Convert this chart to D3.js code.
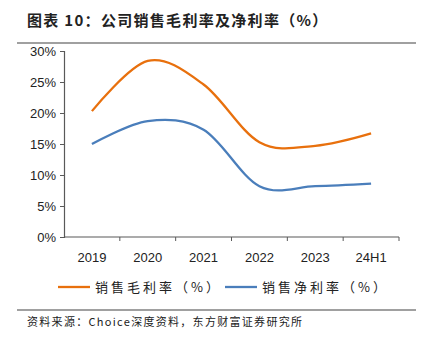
<!DOCTYPE html>
<html>
<head>
<meta charset="utf-8">
<script src="https://cdn.jsdelivr.net/npm/d3@7"></script>
<style>
  body { margin: 0; background: #fff; }
  svg { display: block; }
</style>
</head>
<body>
<div id="chart"></div>
<script>
// periods and margin series (%)
const years = ["2019", "2020", "2021", "2022", "2023", "24H1"];
const grossMargin = [20.3, 28.4, 24.6, 15.3, 14.7, 16.7];
const netMargin = [15.0, 18.7, 17.3, 8.2, 8.2, 8.6];
const yTicks = [0, 5, 10, 15, 20, 25, 30];

const seriesNames = ["销售毛利率（%）", "销售净利率（%）"];
const colors = ["#E8700D", "#4A7EBB"];

const W = 431, H = 343;
const cjk = "'Noto Sans CJK SC', sans-serif";
const latin = "'Liberation Sans', Arial, sans-serif";

const svg = d3.select("#chart").append("svg")
  .attr("width", W)
  .attr("height", H);

// title and rules
svg.append("text")
  .attr("x", 27).attr("y", 26)
  .style("font-family", cjk)
  .style("font-size", "15px")
  .style("font-weight", "bold")
  .style("letter-spacing", "1.3px")
  .attr("fill", "#222")
  .text("图表 10：公司销售毛利率及净利率（%）");

svg.append("line")
  .attr("x1", 17).attr("x2", 416).attr("y1", 43).attr("y2", 43)
  .attr("stroke", "#808080").attr("stroke-width", 1.3);

svg.append("line")
  .attr("x1", 17).attr("x2", 416).attr("y1", 310).attr("y2", 310)
  .attr("stroke", "#808080").attr("stroke-width", 1.3);

svg.append("text")
  .attr("x", 27).attr("y", 326)
  .style("font-family", cjk)
  .style("font-size", "11px")
  .style("letter-spacing", "1.3px")
  .attr("fill", "#222")
  .text("资料来源：Choice深度资料，东方财富证券研究所");

// plot area
const plot = { left: 64, right: 399, top: 51, bottom: 237 };

const x = d3.scaleBand()
  .domain(years)
  .range([plot.left, plot.right]);

const y = d3.scaleLinear()
  .domain([0, 30])
  .range([plot.bottom, plot.top]);

const yAxis = d3.axisLeft(y)
  .tickValues(yTicks)
  .tickSize(4)
  .tickFormat(d => d + "%");

const gy = svg.append("g")
  .attr("transform", `translate(${plot.left},0)`)
  .call(yAxis);
gy.select(".domain").attr("stroke", "#595959").attr("stroke-width", 1.2);
gy.selectAll(".tick line").attr("stroke", "#595959");
gy.selectAll(".tick text")
  .attr("x", -8)
  .style("font-family", latin)
  .style("font-size", "13px")
  .attr("fill", "#222");

// x axis: ticks sit on band boundaries
const gx = svg.append("g")
  .attr("transform", `translate(0,${plot.bottom})`);
gx.append("line")
  .attr("x1", plot.left).attr("x2", plot.right)
  .attr("stroke", "#595959").attr("stroke-width", 1.2);
const bounds = years.map(d => x(d) + x.bandwidth());
gx.selectAll("line.bound")
  .data(bounds)
  .join("line")
  .attr("class", "bound")
  .attr("x1", d => d).attr("x2", d => d)
  .attr("y1", 0).attr("y2", 4)
  .attr("stroke", "#595959");
gx.selectAll("text")
  .data(years)
  .join("text")
  .attr("x", d => x(d) + x.bandwidth() / 2)
  .attr("y", 25)
  .attr("text-anchor", "middle")
  .style("font-family", latin)
  .style("font-size", "13px")
  .attr("fill", "#222")
  .text(d => d);

// smoothed lines
const line = d3.line()
  .x((d, i) => x(years[i]) + x.bandwidth() / 2)
  .y(d => y(d))
  .curve(d3.curveCatmullRom.alpha(0));

[grossMargin, netMargin].forEach((vals, i) => {
  svg.append("path")
    .datum(vals)
    .attr("fill", "none")
    .attr("stroke", colors[i])
    .attr("stroke-width", 2.3)
    .attr("d", line);
});

// legend
const legend = svg.append("g").attr("transform", "translate(0,287)");
const legendX = [58, 225];
seriesNames.forEach((name, i) => {
  legend.append("line")
    .attr("x1", legendX[i]).attr("x2", legendX[i] + 32)
    .attr("stroke", colors[i]).attr("stroke-width", 2.3);
  legend.append("text")
    .attr("x", legendX[i] + 37)
    .attr("y", 5)
    .style("font-family", cjk)
    .style("font-size", "13px")
    .style("letter-spacing", "3px")
    .attr("fill", "#222")
    .text(name);
});
</script>
</body>
</html>
